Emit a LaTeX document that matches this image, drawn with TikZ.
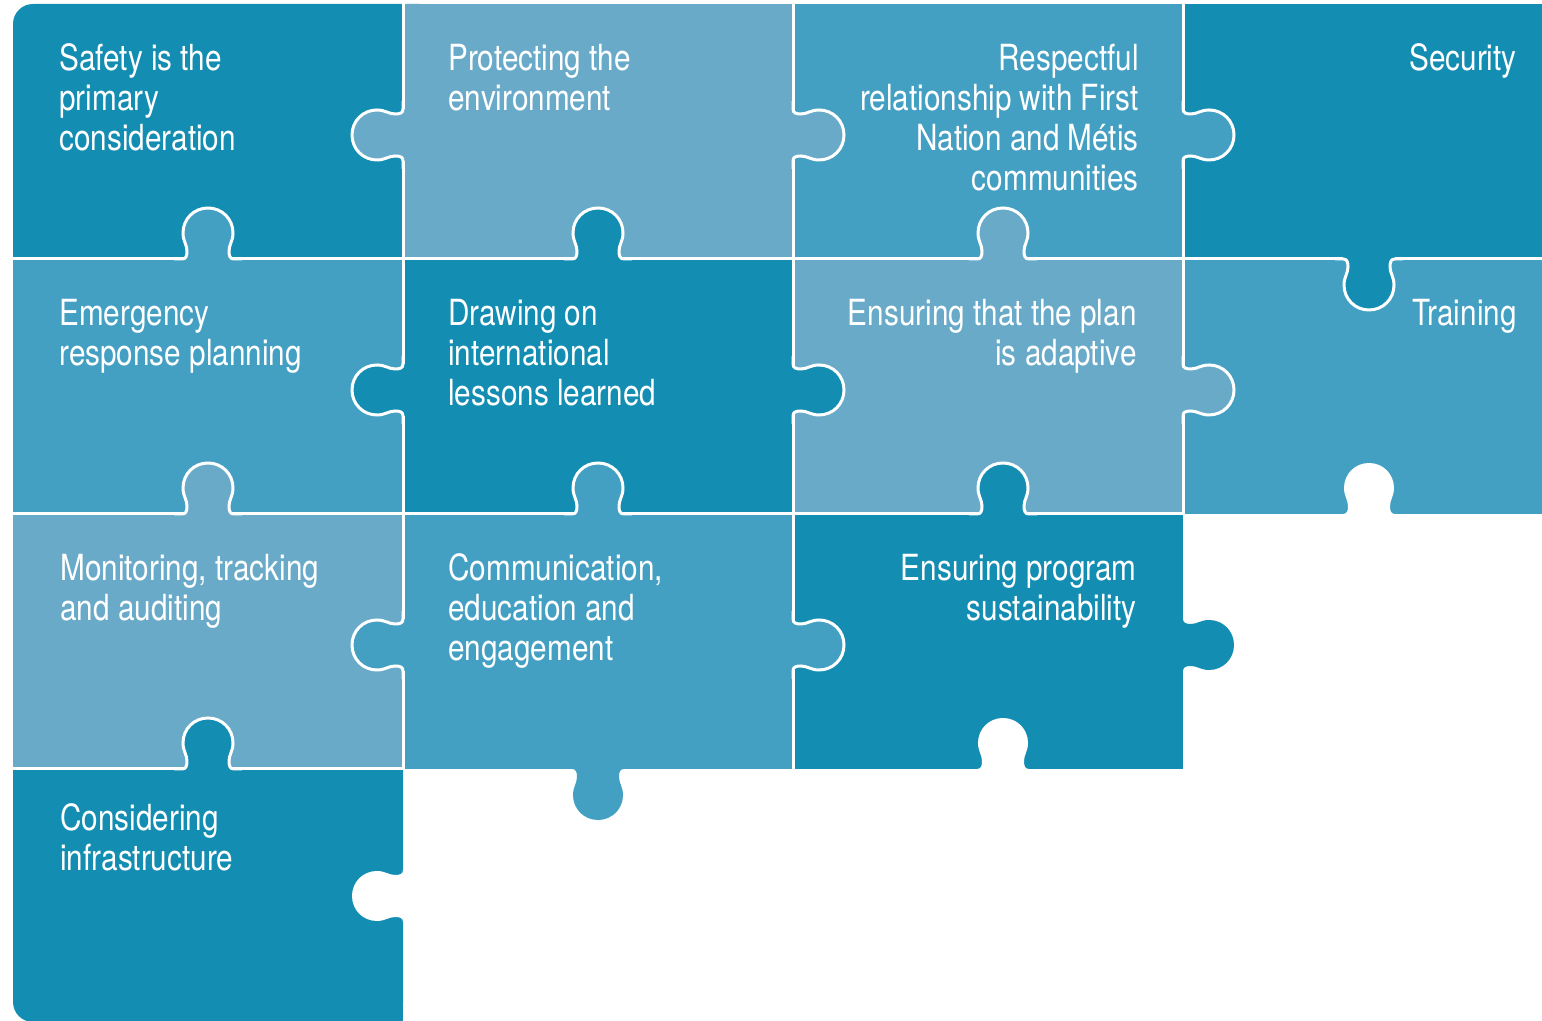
\documentclass[tikz,border=0pt]{standalone}
\usepackage{fontspec}
\setmainfont{TeX Gyre Heros}[FakeStretch=0.825]
\definecolor{cD}{HTML}{138DB2}
\definecolor{cM}{HTML}{43A0C2}
\definecolor{cL}{HTML}{6AAAC9}
\begin{document}
\begin{tikzpicture}[x=0.5pt,y=0.5pt,
  seam/.style={draw=white,line width=1.5pt,line join=round},
  lbl/.style={inner sep=0pt,text=white,font=\fontsize{18}{20}\selectfont},
  tabfill/.pic={\path[pic actions] (-26,-4) -- (-26,0) .. controls (-22,0) and (-21,3) .. (-21,8) .. controls (-21,14) and (-25,18) .. (-25,26) .. controls (-25,40) and (-14,51) .. (0,51) .. controls (14,51) and (25,40) .. (25,26) .. controls (25,18) and (21,14) .. (21,8) .. controls (21,3) and (22,0) .. (26,0) -- (26,-4) -- cycle;},
  tabedge/.pic={\path[seam] (-34,0) -- (-26,0) .. controls (-22,0) and (-21,3) .. (-21,8) .. controls (-21,14) and (-25,18) .. (-25,26) .. controls (-25,40) and (-14,51) .. (0,51) .. controls (14,51) and (25,40) .. (25,26) .. controls (25,18) and (21,14) .. (21,8) .. controls (21,3) and (22,0) .. (26,0) -- (34,0);},
]
\useasboundingbox (0,0) rectangle (1542,1021);
% cells
\fill[cD,rounded corners=10pt] (13,730) rectangle (440,1017);
\fill[cL] (403,762) rectangle (793,1017);
\fill[cM] (793,762) rectangle (1183,1017);
\fill[cD] (1183,762) rectangle (1545,1017);
\fill[cM] (13,507) rectangle (403,762);
\fill[cD] (403,507) rectangle (793,762);
\fill[cL] (793,507) rectangle (1183,762);
\fill[cM] (1183,507) rectangle (1545,762);
\fill[cD,rounded corners=10pt] (13,-1) rectangle (403,280);
\fill[cD] (200,-1) rectangle (403,260);
\fill[cL] (13,252) rectangle (403,507);
\fill[cM] (403,252) rectangle (793,507);
\fill[cD] (793,252) rectangle (1183,507);
% straight seams
\draw[seam] (403,1022) -- (403,252);
\draw[seam] (793,1022) -- (793,252);
\draw[seam] (1183,1022) -- (1183,507);
\draw[seam] (13,762) -- (1545,762);
\draw[seam] (13,507) -- (1183,507);
\draw[seam] (13,252) -- (403,252);
% tabs between pieces
\foreach \px/\py/\rot/\col in {403/886/90/cL, 793/886/-90/cL, 1183/886/-90/cM,
  403/631/90/cD, 793/631/-90/cD, 1183/631/-90/cL,
  403/376/90/cM, 793/376/-90/cM,
  208/762/0/cM, 598/762/0/cD, 1003/762/0/cL, 1369/762/180/cD,
  208/507/0/cL, 598/507/0/cM, 1003/507/0/cD,
  208/252/0/cD}{
  \pic[fill=\col,rotate=\rot] at (\px,\py) {tabfill};
  \pic[rotate=\rot] at (\px,\py) {tabedge};
}
% outer tabs and holes
\pic[fill=cD,rotate=-90] at (1183,376) {tabfill};
\pic[fill=cM,rotate=180] at (598,252) {tabfill};
\pic[fill=white,rotate=0] at (1369,507) {tabfill};
\pic[fill=white,rotate=0] at (1003,252) {tabfill};
\pic[fill=white,rotate=90] at (403,125) {tabfill};
% labels
\node[lbl,anchor=base west] (safety) at (59,950) {\begin{tabular}[t]{@{}l@{}}Safety is the\\primary\\consideration\end{tabular}};
\node[lbl,anchor=base west] (protect) at (448,950) {\begin{tabular}[t]{@{}l@{}}Protecting the\\environment\end{tabular}};
\node[lbl,anchor=base east] (respect) at (1139,950) {\begin{tabular}[t]{@{}r@{}}Respectful\\relationship with First\\Nation and Métis\\communities\end{tabular}};
\node[lbl,anchor=base east] (security) at (1517,950) {\begin{tabular}[t]{@{}r@{}}Security\end{tabular}};
\node[lbl,anchor=base west] (emerg) at (59,695) {\begin{tabular}[t]{@{}l@{}}Emergency\\response planning\end{tabular}};
\node[lbl,anchor=base west] (drawing) at (448,695) {\begin{tabular}[t]{@{}l@{}}Drawing on\\international\\lessons learned\end{tabular}};
\node[lbl,anchor=base east] (adaptive) at (1137,695) {\begin{tabular}[t]{@{}r@{}}Ensuring that the plan\\is adaptive\end{tabular}};
\node[lbl,anchor=base east] (training) at (1517,695) {\begin{tabular}[t]{@{}r@{}}Training\end{tabular}};
\node[lbl,anchor=base west] (monitor) at (60,440) {\begin{tabular}[t]{@{}l@{}}Monitoring, tracking\\and auditing\end{tabular}};
\node[lbl,anchor=base west] (comm) at (448,440) {\begin{tabular}[t]{@{}l@{}}Communication,\\education and\\engagement\end{tabular}};
\node[lbl,anchor=base east] (sustain) at (1137,440) {\begin{tabular}[t]{@{}r@{}}Ensuring program\\sustainability\end{tabular}};
\node[lbl,anchor=base west] (infra) at (60,190) {\begin{tabular}[t]{@{}l@{}}Considering\\infrastructure\end{tabular}};
\end{tikzpicture}
\end{document}
